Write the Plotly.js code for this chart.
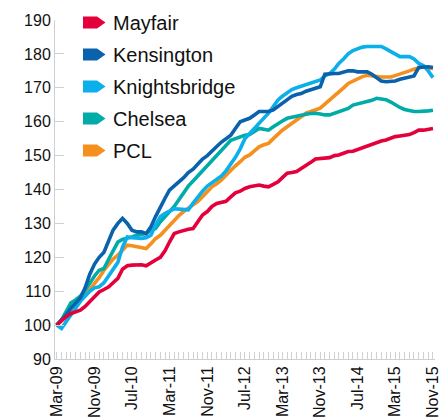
<!DOCTYPE html>
<html>
<head>
<meta charset="utf-8">
<script src="https://cdn.plot.ly/plotly-3.0.1.min.js"></script>
<style>html,body{margin:0;padding:0;background:#fff;}#chart{width:448px;height:420px;}</style>
</head>
<body>
<div id="chart"></div>
<script>
// Monthly index values, Mar-09 (=100) to Nov-15
const startYear = 2009, startMonth = 3, nMonths = 81;
const months = [];
for (let i = 0; i < nMonths; i++) {
  const m = startMonth - 1 + i;
  const y = startYear + Math.floor(m / 12);
  const mm = (m % 12) + 1;
  months.push(y + '-' + String(mm).padStart(2, '0') + '-01');
}

const seriesNames = ['Mayfair', 'Kensington', 'Knightsbridge', 'Chelsea', 'PCL'];
const seriesColors = ['#e4003b', '#0a62ad', '#0bb0ea', '#00aba8', '#f5901e'];

const mayfair = [100,101.3,102.5,103.4,104,104.4,105.5,107,108.2,109.8,110.5,111.3,112.5,113.8,116.5,117.5,117.7,117.8,117.8,117.5,
  118.5,119.2,120,122,124.5,127,127.5,128,128.3,128.5,130.5,132.5,133.5,135,135.9,136.2,136.5,137.8,139,139.5,
  140.3,140.8,141,141.3,141,140.8,141.5,142.3,143.5,144.8,145,145.3,146.2,147,148,149,149.2,149.2,149.4,150,
  150.2,150.7,151.2,151.3,151.8,152.4,153,153.5,154,154.3,154.6,155.1,155.6,155.8,156,156.2,156.8,157.5,157.5,157.8,158];

const kensington = [100,101.5,103,105,106.5,108,111,115,118,120,121.5,125,128,130,131.5,130,128,127.5,127.5,127,
  129,132,135,137.5,139.8,141,142,143.5,145,146,147.5,149,150,151.5,152.7,154,155,156,158,160,
  160.5,161,162,163,163,163,163.5,164.5,165.5,166.5,167.5,168,168.3,169,169.5,170,170.3,174,174.2,174.2,
  174.2,174.5,175,175,174.7,174.7,174.7,174,173,172,171.8,171.8,172,172.5,172.8,173.2,173.5,176,176.2,176.2,176];

const knightsbridge = [100,99,101,103,105,107,108.5,110,111,111.3,112.5,114.5,116.2,118.5,123,126,125.8,125.6,125.6,125.8,
  126.5,129.5,132,133,133.5,134.3,134.2,134,134,136,138,139.5,141,142,142.8,144,145.5,147.5,149.5,152,
  155,156.5,158,159.5,161,162.5,164.5,166.4,167.5,168.5,169.5,170,170.5,170.8,171.5,172,172.3,173.5,174.2,175.5,
  177.2,178.5,180,181,181.6,182,182.2,182.2,182.2,182.2,181.5,180.7,179.8,179.2,179.2,179.2,178.5,177.2,176.5,175,173];

const chelsea = [100,101.5,104,106.6,107.4,108.5,110.3,112.5,114.5,116.2,116.7,119.5,122,124.5,125.3,125.6,126,126.5,126.8,127,
  128,128.5,130.5,132,133.5,135,137,139,141,142.5,144,145.7,147,148.5,150,151.5,153,154.5,155,155.6,
  156,156.2,157,158,157.8,157.5,158.5,159.5,160.2,161,161.3,161.8,162,162.2,162.4,162.5,162.3,162,162,162.5,
  162.9,163.4,163.9,164.9,165.2,165.6,166,166.3,166.9,166.8,166.5,165.8,164.9,164.2,163.6,163.3,163,163,163,163.2,163.4];

const pcl = [100,101.5,103,104.5,105.9,107.3,108.8,110.5,112.3,114,116.2,118,119.5,120.6,122,123.6,123.4,123.2,123,122.6,
  124,125.5,126.5,128,129.5,131,132.3,133.5,134.5,135.5,136.5,137.9,139.2,140.8,141.7,142.8,144.2,145.7,147,148.2,
  149.5,150.2,151.5,152.6,153.2,153.6,155,156.5,157.5,158.5,159.5,160.5,161.5,162.5,163,163.5,164,165.2,166.4,167.5,
  168.5,170,171.3,172,172.8,173.3,173.7,173.5,173.3,173.2,173.2,173.2,173.6,174,174.4,175,175.5,176,176.3,175.8,175.7];

const seriesValues = [mayfair, kensington, knightsbridge, chelsea, pcl];
const drawOrder = [4, 3, 2, 1, 0];

const traces = drawOrder.map(i => ({
  type: 'scatter', mode: 'lines', name: seriesNames[i],
  x: months, y: seriesValues[i],
  line: {color: seriesColors[i], width: 3.6},
  showlegend: false, hoverinfo: 'skip'
}));

// plot area geometry in pixels
const W = 448, H = 420;
const mL = 55, mR = 13, mT = 20, mB = 61;
const pw = W - mL - mR, ph = H - mT - mB;
const px = v => (v - mL) / pw;
const py = v => (H - mB - v) / ph;

// custom legend: arrow-shaped swatches + labels
const shapes = [], annotations = [];
seriesNames.forEach((name, i) => {
  const cy = 22.5 + 32 * i;
  const x0 = 83, x1 = 97, x2 = 105.5, h = 6;
  const path = 'M ' + px(x0) + ',' + py(cy - h) + ' L ' + px(x1) + ',' + py(cy - h) +
    ' L ' + px(x2) + ',' + py(cy) + ' L ' + px(x1) + ',' + py(cy + h) +
    ' L ' + px(x0) + ',' + py(cy + h) + ' Z';
  shapes.push({type: 'path', xref: 'paper', yref: 'paper', path: path,
    fillcolor: seriesColors[i], line: {width: 0}});
  annotations.push({xref: 'paper', yref: 'paper', x: px(111), y: py(cy),
    xanchor: 'left', yanchor: 'middle', showarrow: false, text: name,
    font: {family: 'Liberation Sans, Arial, sans-serif', size: 20, color: '#111'}});
});

const layout = {
  width: W, height: H,
  margin: {l: mL, r: mR, t: mT, b: mB, pad: 0},
  paper_bgcolor: '#fff', plot_bgcolor: '#fff',
  font: {family: 'Liberation Sans, Arial, sans-serif', size: 16, color: '#111'},
  showlegend: false,
  xaxis: {
    type: 'date', range: ['2009-02-18', '2015-11-14'],
    tick0: '2009-03-01', dtick: 'M8', tickformat: '%b-%y', tickangle: -90,
    ticks: 'inside', ticklen: 7, tickcolor: '#d0d0d0', tickwidth: 1,
    showline: true, linecolor: '#cfcfcf', linewidth: 1,
    showgrid: false, zeroline: false,
    minor: {dtick: 'M1', ticks: 'inside', ticklen: 7, tickcolor: '#d0d0d0', tickwidth: 1, showgrid: false},
    tickfont: {size: 16, color: '#111'}
  },
  yaxis: {
    range: [90, 190], dtick: 10, tick0: 90,
    ticks: 'inside', ticklen: 9, tickcolor: '#d0d0d0', tickwidth: 1,
    showline: true, linecolor: '#cfcfcf', linewidth: 1,
    showgrid: false, zeroline: false,
    tickfont: {size: 16, color: '#111'}
  },
  shapes: shapes,
  annotations: annotations
};

Plotly.newPlot('chart', traces, layout, {displayModeBar: false, staticPlot: true});
</script>
</body>
</html>
